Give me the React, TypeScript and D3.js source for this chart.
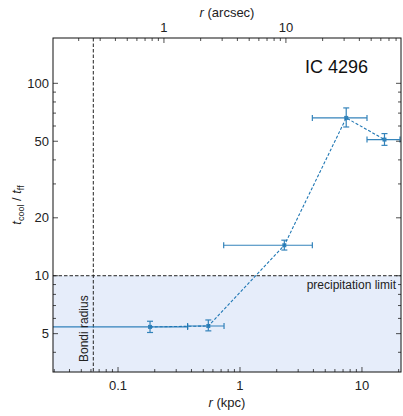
import React from "react";
import * as d3 from "d3";

const rKpc = [0.183, 0.55, 2.31, 7.43, 15.3];
const rLo = [0.005, 0.372, 0.735, 3.92, 11.0];
const rHi = [0.372, 0.74, 3.92, 11.0, 20.5];
const ratio = [5.42, 5.48, 14.4, 66.1, 51.0];
const ratioLo = [5.07, 5.17, 13.6, 59.3, 47.6];
const ratioHi = [5.8, 5.89, 15.3, 74.5, 54.8];

const xTicks = [0.1, 1, 10];
const yTicks = [5, 10, 20, 50, 100];
const arcTicks = [1, 10];
const kpcPerArcsec = 0.238;
const bondiRadius = 0.0627;
const precipLimit = 10;

const W = 403, H = 416;
const L = 53, R = 401, T = 38, B = 372;
const FONT = "'Liberation Sans', Arial, Helvetica, sans-serif";
const BLUE = "#1f77b4";

function minorTicks(lo: number, hi: number) {
  const out: number[] = [];
  for (let e = -3; e <= 3; e++) {
    for (let m = 1; m <= 9; m++) {
      const v = m * Math.pow(10, e);
      if (v >= lo && v <= hi) out.push(v);
    }
  }
  return out;
}

export default function App() {
  const x = d3.scaleLog().domain([0.0293, 20.9]).range([L, R]);
  const y = d3.scaleLog().domain([3.16, 172]).range([B, T]);
  const xa = (a: number) => x(a * kpcPerArcsec);

  const xMinor = minorTicks(0.0293, 20.9);
  const yMinor = minorTicks(3.16, 172);
  const aMinor = minorTicks(0.0293 / kpcPerArcsec, 20.9 / kpcPerArcsec);

  const line = d3
    .line<number>()
    .x((_, i) => x(rKpc[i]))
    .y((d) => y(d));

  const maj = 5, mn = 3;

  return (
    <svg width={W} height={H} style={{ position: "absolute", left: 0, top: 0 }} fontFamily={FONT}>
      <defs>
        <clipPath id="plot">
          <rect x={L} y={T} width={R - L} height={B - T} />
        </clipPath>
      </defs>
      <rect x={0} y={0} width={W} height={H} fill="white" />
      <g clipPath="url(#plot)">
        <rect x={L} y={y(precipLimit)} width={R - L} height={B - y(precipLimit)} fill="#e6edfa" />
        <line x1={L} x2={R} y1={y(precipLimit)} y2={y(precipLimit)} stroke="#222" strokeWidth={1} strokeDasharray="3.5,2" />
        <line x1={x(bondiRadius)} x2={x(bondiRadius)} y1={T} y2={B} stroke="#222" strokeWidth={1} strokeDasharray="3.5,2" />
        <path d={line(ratio) || ""} fill="none" stroke={BLUE} strokeWidth={1.1} strokeDasharray="3,1.8" />
        {rKpc.map((r, i) => (
          <g key={i} stroke={BLUE} strokeWidth={1.2} opacity={0.9}>
            <line x1={x(rLo[i])} x2={x(rHi[i])} y1={y(ratio[i])} y2={y(ratio[i])} />
            <line x1={x(rLo[i])} x2={x(rLo[i])} y1={y(ratio[i]) - 3} y2={y(ratio[i]) + 3} />
            <line x1={x(rHi[i])} x2={x(rHi[i])} y1={y(ratio[i]) - 3} y2={y(ratio[i]) + 3} />
            <line x1={x(r)} x2={x(r)} y1={y(ratioLo[i])} y2={y(ratioHi[i])} />
            <line x1={x(r) - 3} x2={x(r) + 3} y1={y(ratioLo[i])} y2={y(ratioLo[i])} />
            <line x1={x(r) - 3} x2={x(r) + 3} y1={y(ratioHi[i])} y2={y(ratioHi[i])} />
            <rect x={x(r) - 2} y={y(ratio[i]) - 2} width={4} height={4} fill={BLUE} stroke="none" />
          </g>
        ))}
      </g>
      {/* ticks */}
      <g stroke="#222" strokeWidth={0.8}>
        {xMinor.map((v) => {
          const m = xTicks.includes(v) ? maj : mn;
          return <line key={"xm" + v} x1={x(v)} x2={x(v)} y1={B} y2={B - m} />;
        })}
        {aMinor.map((v) => {
          const m = arcTicks.includes(v) ? maj : mn;
          return <line key={"am" + v} x1={xa(v)} x2={xa(v)} y1={T} y2={T + m} />;
        })}
        {yMinor.map((v) => {
          const m = yTicks.includes(v) ? maj : mn;
          return (
            <g key={"ym" + v}>
              <line x1={L} x2={L + m} y1={y(v)} y2={y(v)} />
              <line x1={R} x2={R - m} y1={y(v)} y2={y(v)} />
            </g>
          );
        })}
      </g>
      <rect x={L} y={T} width={R - L} height={B - T} fill="none" stroke="#111" strokeWidth={1} />
      {/* tick labels */}
      <g fontSize={13} fill="#222">
        {xTicks.map((v) => (
          <text key={"xl" + v} x={x(v)} y={B + 18} textAnchor="middle">
            {d3.format("~g")(v)}
          </text>
        ))}
        {arcTicks.map((v) => (
          <text key={"al" + v} x={xa(v)} y={T - 6} textAnchor="middle">
            {v}
          </text>
        ))}
        {yTicks.map((v) => (
          <text key={"yl" + v} x={L - 4} y={y(v) + 4.5} textAnchor="end">
            {v}
          </text>
        ))}
      </g>
      {/* axis labels */}
      <text x={(L + R) / 2} y={407} textAnchor="middle" fontSize={13} fill="#222">
        <tspan fontStyle="italic">r</tspan> (kpc)
      </text>
      <text x={(L + R) / 2} y={17} textAnchor="middle" fontSize={13} fill="#222">
        <tspan fontStyle="italic">r</tspan> (arcsec)
      </text>
      <text transform={`translate(21,${(T + B) / 2}) rotate(-90)`} textAnchor="middle" fontSize={13} fill="#222">
        <tspan fontStyle="italic">t</tspan>
        <tspan fontSize={9} dy={3}>cool</tspan>
        <tspan dy={-3}> / </tspan>
        <tspan fontStyle="italic">t</tspan>
        <tspan fontSize={9} dy={3}>ff</tspan>
      </text>
      <text x={305} y={73} fontSize={18} fill="#111">IC 4296</text>
      <text x={396} y={289} textAnchor="end" fontSize={12} fill="#222">precipitation limit</text>
      <text transform={`translate(${x(bondiRadius) - 5},362) rotate(-90)`} fontSize={12} fill="#222">
        Bondi radius
      </text>
    </svg>
  );
}
